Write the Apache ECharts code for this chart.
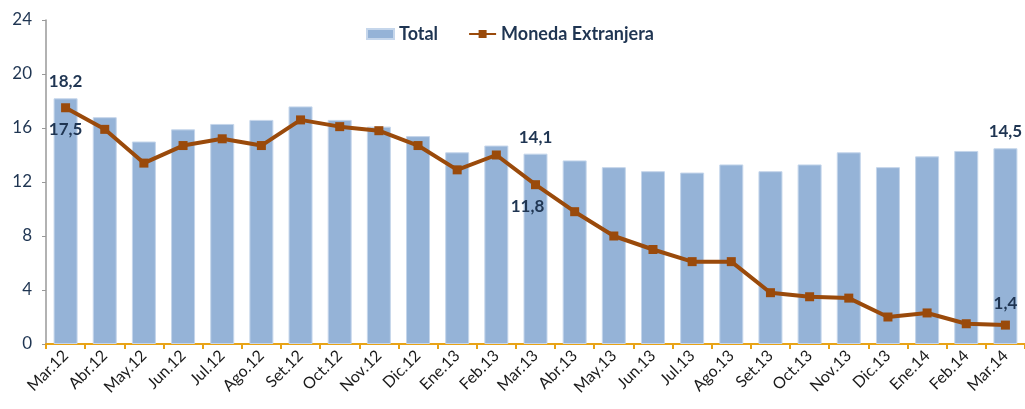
<!DOCTYPE html>
<html>
<head>
<meta charset="utf-8">
<script src="https://cdn.jsdelivr.net/npm/echarts@6/dist/echarts.min.js"></script>
<style>
  html, body { margin: 0; padding: 0; background: #fff; }
  #chart { width: 1025px; height: 409px; }
</style>
</head>
<body>
<div id="chart"></div>
<script>
var meses = ['Mar.12','Abr.12','May.12','Jun.12','Jul.12','Ago.12','Set.12','Oct.12','Nov.12','Dic.12',
             'Ene.13','Feb.13','Mar.13','Abr.13','May.13','Jun.13','Jul.13','Ago.13','Set.13','Oct.13',
             'Nov.13','Dic.13','Ene.14','Feb.14','Mar.14'];
var total = [18.2, 16.8, 15.0, 15.9, 16.3, 16.6, 17.6, 16.6, 16.1, 15.4,
             14.2, 14.7, 14.1, 13.6, 13.1, 12.8, 12.7, 13.3, 12.8, 13.3,
             14.2, 13.1, 13.9, 14.3, 14.5];
var monedaExt = [17.5, 15.9, 13.4, 14.7, 15.2, 14.7, 16.6, 16.1, 15.8, 14.7,
                 12.9, 14.0, 11.8, 9.8, 8.0, 7.0, 6.1, 6.1, 3.8, 3.5,
                 3.4, 2.0, 2.3, 1.5, 1.4];
// puntos con etiqueta
var etiqTotal = [0, 12, 24];
var etiqMoneda = { 0: 'bottom', 12: 'bottom', 24: 'top' };

var fuente = 'Lato, "Open Sans", sans-serif';
var azulOscuro = '#1F3552';
var coma = function (v) { return String(v.toFixed(1)).replace('.', ','); };

var chart = echarts.init(document.getElementById('chart'));

var datosTotal = total.map(function (v, i) {
    var d = { value: v };
    if (etiqTotal.indexOf(i) >= 0) {
        d.label = { show: true, position: 'top', distance: 8 };
    }
    return d;
});
var datosMoneda = monedaExt.map(function (v, i) {
    var d = { value: v };
    if (etiqMoneda[i]) {
        d.label = { show: true, position: etiqMoneda[i], distance: 9 };
        if (i === 12) d.label.offset = [-8, 0];
    }
    return d;
});

chart.setOption({
    animation: false,
    textStyle: { fontFamily: fuente },
    legend: {
        top: 20,
        left: 361,
        itemWidth: 27,
        itemHeight: 10,
        itemGap: 30,
        textStyle: { fontSize: 18, fontWeight: 'bold', color: azulOscuro, fontFamily: fuente },
        data: [
            { name: 'Total', icon: 'rect' },
            { name: 'Moneda Extranjera' }
        ]
    },
    grid: { left: 46, width: 985, top: 20, bottom: 65, containLabel: false },
    xAxis: {
        type: 'category',
        data: meses,
        boundaryGap: true,
        axisLine: { lineStyle: { color: '#E8A317', width: 2 } },
        axisTick: { show: true, length: 5, lineStyle: { color: '#E8A317', width: 2 } },
        axisLabel: { rotate: 45, interval: 0, margin: 9, fontSize: 16, color: '#1a1a1a', fontFamily: fuente }
    },
    yAxis: {
        type: 'value',
        min: 0,
        max: 24,
        interval: 4,
        splitLine: { show: false },
        axisLine: { show: true, lineStyle: { color: '#999', width: 1.5 } },
        axisTick: { show: true, length: 4, lineStyle: { color: '#999' } },
        axisLabel: { fontSize: 17, color: azulOscuro, margin: 14, fontFamily: fuente }
    },
    series: [
        {
            name: 'Total',
            type: 'bar',
            barWidth: 24,
            data: datosTotal,
            itemStyle: { color: '#95B3D7', borderColor: '#C5D6EB', borderWidth: 1 },
            label: {
                show: false,
                fontSize: 17,
                fontWeight: 'bold',
                color: azulOscuro,
                fontFamily: fuente,
                formatter: function (p) { return coma(p.value); }
            }
        },
        {
            name: 'Moneda Extranjera',
            type: 'line',
            data: datosMoneda,
            symbol: 'rect',
            symbolSize: 9,
            z: 5,
            lineStyle: { color: '#9A4A0B', width: 4 },
            itemStyle: { color: '#9A4A0B' },
            label: {
                show: false,
                fontSize: 17,
                fontWeight: 'bold',
                color: azulOscuro,
                fontFamily: fuente,
                formatter: function (p) { return coma(p.value); }
            }
        }
    ]
});
</script>
</body>
</html>
